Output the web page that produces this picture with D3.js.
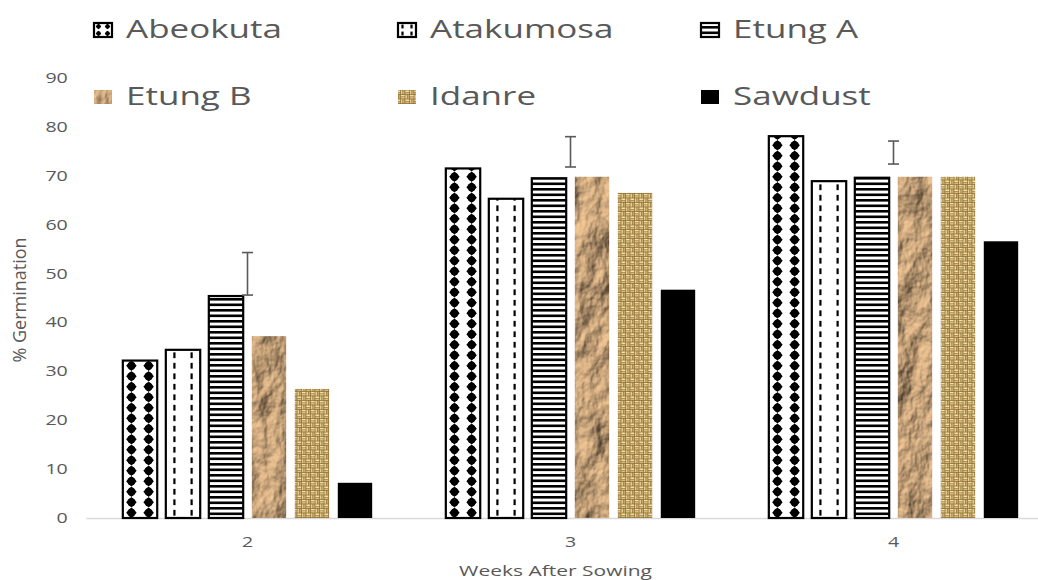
<!DOCTYPE html>
<html>
<head>
<meta charset="utf-8">
<script src="https://cdn.jsdelivr.net/npm/d3@7"></script>
<style>
  html, body { margin: 0; padding: 0; background: #ffffff; }
  svg { display: block; }
  text { font-family: "Open Sans", "DejaVu Sans", sans-serif; fill: #595959; }
</style>
</head>
<body>
<svg id="chart" width="1038" height="580"></svg>
<script>
// Germination data (% germination by week after sowing, per seed source)
const weeks = ["2", "3", "4"];
const seriesNames = ["Abeokuta", "Atakumosa", "Etung A", "Etung B", "Idanre", "Sawdust"];
const abeokuta  = [32.2, 71.5, 78.1];
const atakumosa = [34.4, 65.3, 68.9];
const etungA    = [45.4, 69.5, 69.6];
const etungB    = [37.2, 69.8, 69.8];
const idanre    = [26.4, 66.5, 69.8];
const sawdust   = [7.2, 46.7, 56.6];
const errLow    = [45.6, 71.8, 72.4];
const errHigh   = [54.3, 78.0, 77.1];
const yTicks    = [0, 10, 20, 30, 40, 50, 60, 70, 80, 90];

const seriesValues = [abeokuta, atakumosa, etungA, etungB, idanre, sawdust];
const fills = ["diamond", "dash", "stripe", "paper", "weave", "solid"];

const svg = d3.select("#chart");
const defs = svg.append("defs");
const SX = 1.4;          // horizontal stretch applied to horizontal labels
const plotLeft = 86, plotRight = 1055, plotTop = 78, plotBottom = 518;

const x0 = d3.scaleBand().domain(weeks).range([plotLeft, plotRight])
  .paddingInner(0.228).paddingOuter(0.114);
const x1 = d3.scaleBand().domain(seriesNames).range([0, x0.bandwidth()])
  .paddingInner(0.2).paddingOuter(0);
const y = d3.scaleLinear().domain([0, 90]).range([plotBottom, plotTop]);

// Crumpled paper texture
const crumple = defs.append("filter").attr("id", "crumple")
  .attr("x", 0).attr("y", 0).attr("width", 1).attr("height", 1)
  .attr("color-interpolation-filters", "sRGB");
crumple.append("feTurbulence").attr("type", "fractalNoise")
  .attr("baseFrequency", "0.03 0.02").attr("numOctaves", 5).attr("seed", 11).attr("result", "noise");
const light = crumple.append("feDiffuseLighting").attr("in", "noise")
  .attr("surfaceScale", 7).attr("diffuseConstant", 1.05)
  .attr("lighting-color", "#eac090").attr("result", "lit");
light.append("feDistantLight").attr("azimuth", 225).attr("elevation", 52);
crumple.append("feComposite").attr("in", "lit").attr("in2", "SourceGraphic").attr("operator", "in");

// Burlap weave tile
const T = 9, H = T / 2;
const weave = defs.append("pattern").attr("id", "weave")
  .attr("patternUnits", "userSpaceOnUse").attr("width", T).attr("height", T);
weave.append("rect").attr("width", T).attr("height", T).attr("fill", "#8c6c32");
[[0, 0], [H, H]].forEach(([qx, qy]) => {
  weave.append("rect").attr("x", qx + 0.3).attr("y", qy + 0.4).attr("width", H - 0.6).attr("height", 1.6).attr("fill", "#f0dca6");
  weave.append("rect").attr("x", qx + 0.3).attr("y", qy + 2.5).attr("width", H - 0.6).attr("height", 1.6).attr("fill", "#d7bc7e");
});
[[H, 0], [0, H]].forEach(([qx, qy]) => {
  weave.append("rect").attr("x", qx + 0.4).attr("y", qy + 0.3).attr("width", 1.6).attr("height", H - 0.6).attr("fill", "#e4cd93");
  weave.append("rect").attr("x", qx + 2.5).attr("y", qy + 0.3).attr("width", 1.6).attr("height", H - 0.6).attr("fill", "#c6a966");
});

let clipCount = 0;
// Draws a bar (or legend swatch) with its fill style; hatch fills are clipped marks
function drawMark(parent, kind, bx, by, bw, bh, rowH) {
  if (kind === "paper") {
    parent.append("rect").attr("x", bx).attr("y", by).attr("width", bw).attr("height", bh)
      .attr("fill", "#c9a57b").attr("filter", "url(#crumple)");
    return;
  }
  if (kind === "weave") {
    parent.append("rect").attr("x", bx).attr("y", by).attr("width", bw).attr("height", bh)
      .attr("fill", "url(#weave)");
    return;
  }
  if (kind === "solid") {
    parent.append("rect").attr("x", bx).attr("y", by).attr("width", bw).attr("height", bh).attr("fill", "#000");
    return;
  }
  const cid = `clip${clipCount++}`;
  defs.append("clipPath").attr("id", cid)
    .append("rect").attr("x", bx).attr("y", by).attr("width", bw).attr("height", bh);
  const g = parent.append("g");
  g.append("rect").attr("x", bx).attr("y", by).attr("width", bw).attr("height", bh).attr("fill", "#fff");
  const inner = g.append("g").attr("clip-path", `url(#${cid})`).attr("fill", "#000");
  const base = by + bh;
  const cols = [bx + bw / 4, bx + 3 * bw / 4];
  if (kind === "diamond") {
    const r = Math.min(5.4, bw / 6.5), rr = r * 0.78;
    for (let cy = base - rowH / 2; cy > by - rowH; cy -= rowH) {
      cols.forEach(cx => {
        // rounded body with four points
        inner.append("circle").attr("cx", cx).attr("cy", cy).attr("r", rr);
        inner.append("path").attr("d",
          `M${cx},${cy - r} L${cx + r},${cy} L${cx},${cy + r} L${cx - r},${cy}Z`);
      });
    }
  } else if (kind === "dash") {
    const dl = rowH * 0.55;
    for (let cy = base - rowH / 2; cy > by - rowH; cy -= rowH) {
      cols.forEach(cx => {
        inner.append("rect").attr("x", cx - 1.1).attr("y", cy - dl / 2).attr("width", 2.2).attr("height", dl);
      });
    }
  } else if (kind === "stripe") {
    const period = 5.5;
    for (let sy = base - period; sy > by - period; sy -= period) {
      inner.append("rect").attr("x", bx).attr("y", sy).attr("width", bw).attr("height", 2.6);
    }
  }
  g.append("rect").attr("x", bx).attr("y", by).attr("width", bw).attr("height", bh)
    .attr("fill", "none").attr("stroke", "#000").attr("stroke-width", 2.2);
}

// Stretched text helper
function label(parent, x, yy, str, size, anchor, sx, rotate) {
  const g = parent.append("g")
    .attr("transform", `translate(${x},${yy}) scale(${sx},1)` + (rotate ? " rotate(-90)" : ""));
  return g.append("text").attr("font-size", size).attr("text-anchor", anchor).text(str);
}

// Axes
const xAxis = svg.append("g").attr("transform", `translate(0,${plotBottom})`)
  .call(d3.axisBottom(x0).tickSize(0).tickSizeOuter(0).tickPadding(19));
xAxis.select(".domain").attr("stroke", "#d9d9d9").attr("stroke-width", 1.3);
xAxis.selectAll(".tick text").attr("font-size", 14).attr("fill", "#595959")
  .attr("font-family", "Open Sans, DejaVu Sans, sans-serif")
  .attr("transform", `scale(${SX},1)`);

const yAxis = svg.append("g").attr("transform", `translate(${plotLeft},0)`)
  .call(d3.axisLeft(y).tickValues(yTicks).tickSize(0).tickPadding(13));
yAxis.select(".domain").remove();
yAxis.selectAll(".tick text").attr("font-size", 14).attr("fill", "#595959")
  .attr("font-family", "Open Sans, DejaVu Sans, sans-serif")
  .attr("transform", `scale(${SX},1)`);

// Bars
const barLayer = svg.append("g");
weeks.forEach((w, wi) => {
  seriesNames.forEach((s, si) => {
    const v = seriesValues[si][wi];
    const bx = x0(w) + x1(s), bw = x1.bandwidth();
    drawMark(barLayer, fills[si], bx, y(v), bw, y(0) - y(v), 10.5);
  });
});

// Error bars at each week centre
const eb = svg.append("g").attr("stroke", "#595959").attr("stroke-width", 1.6).attr("fill", "none");
weeks.forEach((w, i) => {
  const cx = x0(w) + x0.bandwidth() / 2;
  eb.append("line").attr("x1", cx).attr("x2", cx).attr("y1", y(errLow[i])).attr("y2", y(errHigh[i]));
  eb.append("line").attr("x1", cx - 5.5).attr("x2", cx + 5.5).attr("y1", y(errLow[i])).attr("y2", y(errLow[i]));
  eb.append("line").attr("x1", cx - 5.5).attr("x2", cx + 5.5).attr("y1", y(errHigh[i])).attr("y2", y(errHigh[i]));
});

// Axis titles
label(svg, (plotLeft + plotRight) / 2 - 15, 576, "Weeks After Sowing", 15, "middle", SX, false);
label(svg, 26, 300, "% Germination", 18, "middle", 1, true);

// Legend: two rows of three
const legX = [93, 397, 700], legY = [22, 89];
const legendLayer = svg.append("g");
seriesNames.forEach((s, i) => {
  const col = i % 3, row = Math.floor(i / 3);
  const sx = legX[col], sy = legY[row];
  drawMark(legendLayer, fills[i], sx + 1, sy + 1, 18, 14, 7);
  label(svg, sx + 33, sy + 16, s, 25, "start", SX, false);
});
</script>
</body>
</html>
